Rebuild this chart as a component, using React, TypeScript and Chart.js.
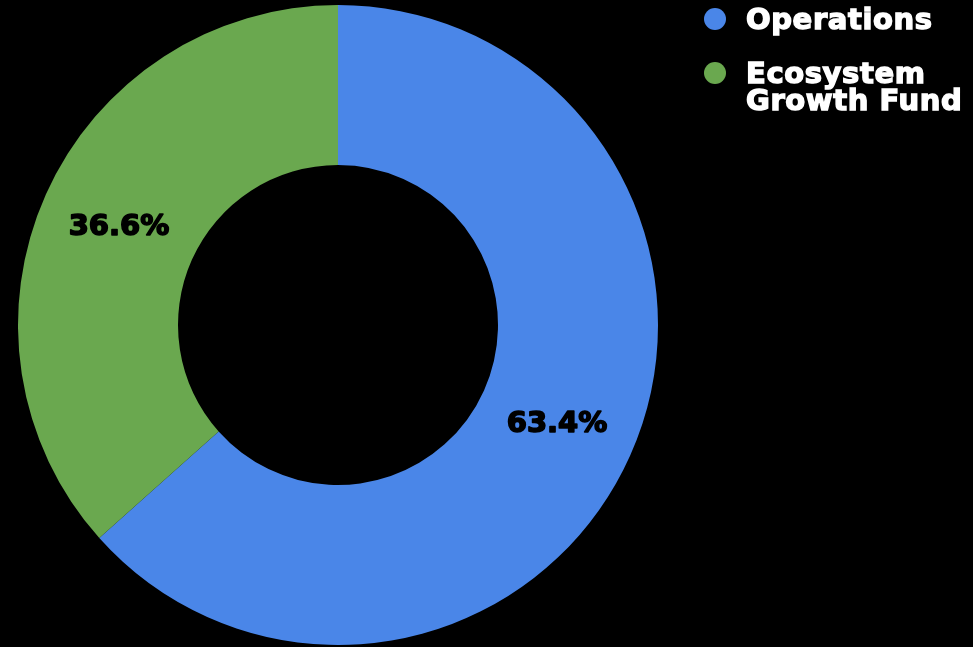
import React, { useEffect, useRef } from "react";
import { Chart, registerables } from "chart.js";

Chart.register(...registerables);

const categories = ["Operations", "Ecosystem Growth Fund"];
const legendLines = [["Operations"], ["Ecosystem", "Growth Fund"]];
const values = [63.4, 36.6];
const colors = ["#4A86E8", "#6AA84F"];

const labelPlugin = {
  id: "sliceLabels",
  afterDatasetsDraw(chart: any) {
    const ctx = chart.ctx;
    const meta = chart.getDatasetMeta(0);
    ctx.save();
    ctx.font = "bold 29px 'DejaVu Sans'";
    ctx.fillStyle = "#000";
    ctx.strokeStyle = "#000";
    ctx.lineWidth = 1.6;
    ctx.lineJoin = "round";
    ctx.textAlign = "center";
    ctx.textBaseline = "middle";
    meta.data.forEach((arc: any, i: number) => {
      const p = arc.tooltipPosition();
      const t = values[i].toFixed(1) + "%";
      ctx.strokeText(t, p.x, p.y + 1);
      ctx.fillText(t, p.x, p.y + 1);
    });
    ctx.restore();
  },
};

export default function App() {
  const ref = useRef<HTMLCanvasElement>(null);
  useEffect(() => {
    document.body.style.margin = "0";
    document.body.style.background = "#000";
    const chart = new Chart(ref.current!, {
      type: "doughnut",
      data: {
        labels: categories,
        datasets: [
          {
            data: values,
            backgroundColor: colors,
            borderWidth: 0,
          },
        ],
      },
      options: {
        animation: false,
        responsive: false,
        cutout: "50%",
        layout: { padding: { left: 18, right: 315, top: 5, bottom: 2 } },
        plugins: {
          legend: { display: false },
          tooltip: { enabled: false },
        },
      },
      plugins: [labelPlugin],
    });
    return () => chart.destroy();
  }, []);

  const tops = [6, 60];
  return (
    <div style={{ position: "relative", width: 973, height: 647, background: "#000", overflow: "hidden" }}>
      <canvas ref={ref} width={973} height={647} style={{ position: "absolute", left: 0, top: 0 }} />
      {legendLines.map((lines, i) => (
        <div key={i}>
          <div
            style={{
              position: "absolute",
              left: 704,
              top: tops[i] + 2,
              width: 22,
              height: 22,
              borderRadius: "50%",
              background: colors[i],
            }}
          />
          <div
            style={{
              position: "absolute",
              left: 746,
              top: tops[i],
              font: "bold 29px 'DejaVu Sans'",
              lineHeight: "27px",
              color: "#fff",
              whiteSpace: "nowrap",
              WebkitTextStroke: "1.4px #fff",
              letterSpacing: "0.6px",
            }}
          >
            {lines.map((l, j) => (
              <div key={j}>{l}</div>
            ))}
          </div>
        </div>
      ))}
    </div>
  );
}
